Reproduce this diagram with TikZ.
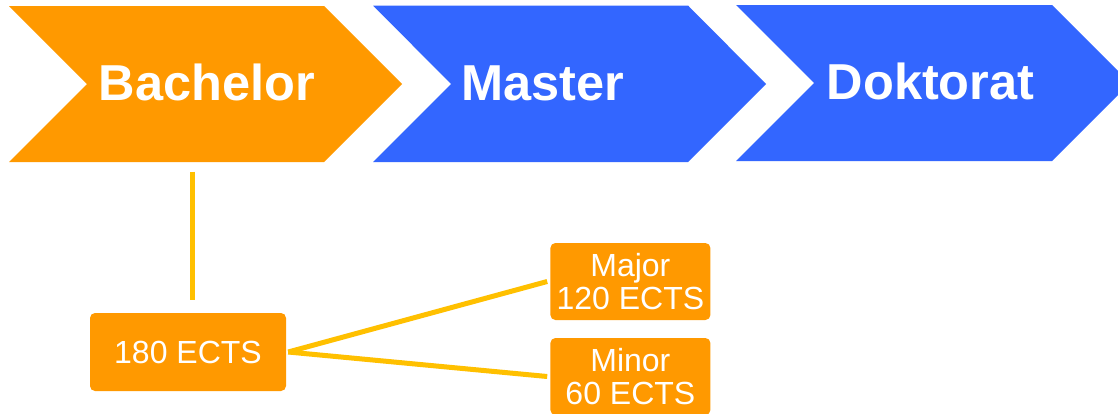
\documentclass[tikz,border=0pt]{standalone}
\usepackage{fontspec}
\setmainfont{Liberation Sans}
\definecolor{chevorange}{HTML}{FF9900}
\definecolor{chevblue}{HTML}{3366FF}
\definecolor{linkgold}{HTML}{FFC000}
\begin{document}
\begin{tikzpicture}[x=1pt,y=-1pt,
  chevlabel/.style={anchor=base west,inner sep=0pt,text=white,font=\fontsize{50.5}{56}\selectfont\bfseries},
  ectsbox/.style={fill=chevorange,rounded corners=5pt,text=white,align=center,inner sep=0pt,
    font=\fontsize{32}{33}\selectfont},
  link/.style={draw=linkgold,line width=5pt}]
\useasboundingbox (0,0) rectangle (1118,413);
\fill[white] (0,0) rectangle (1118,413);
% chevrons
\fill[chevorange] (9,6) -- (324,6) -- (402,84) -- (324,162) -- (9,162) -- (87,84) -- cycle;
\fill[chevblue] (373,5.5) -- (688,5.5) -- (766,84) -- (688,162) -- (373,162) -- (451,84) -- cycle;
\fill[chevblue] (736,5) -- (1052,5) -- (1130,83) -- (1052,161) -- (736,161) -- (814,83) -- cycle;
\node[chevlabel] (bachelor) at (98.5,100) {Bachelor};
\node[chevlabel] (master) at (461.5,100) {Master};
\node[chevlabel] (doktorat) at (826.5,99) {Doktorat};
% boxes
\node[ectsbox,minimum width=196pt,minimum height=78pt] (b180) at (188,352) {180 ECTS};
\node[ectsbox,minimum width=160pt,minimum height=77pt] (major) at (630.4,281.5) {Major\\120 ECTS};
\node[ectsbox,minimum width=160pt,minimum height=77pt] (minor) at (630.4,376.5) {Minor\\60 ECTS};
% connectors
\coordinate (bachbottom) at (192.7,171.5);
\coordinate (b180top) at (192.7,300);
\draw[link,line width=5.3pt] (bachbottom) -- (b180top);
\draw[link] ([xshift=2pt]b180.east) -- ([xshift=-3pt]major.west);
\draw[link] ([xshift=2pt]b180.east) -- ([xshift=-3pt]minor.west);
\end{tikzpicture}
\end{document}
